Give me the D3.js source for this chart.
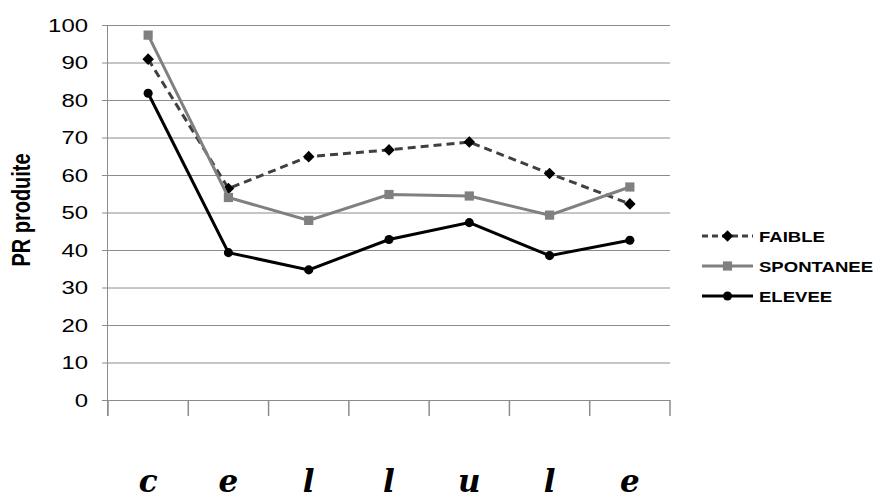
<!DOCTYPE html>
<html lang="fr">
<head>
  <meta charset="utf-8">
  <title>PR produite</title>
  <style>
    html,body { margin:0; padding:0; background:#fff; }
    svg { display:block; }
  </style>
  <script src="https://d3js.org/d3.v7.min.js"></script>
</head>
<body>
<svg width="881" height="498"></svg>
<script>
// values
const letters = ["c", "e", "l", "l", "u", "l", "e"];
const yTicks = [0, 10, 20, 30, 40, 50, 60, 70, 80, 90, 100];
const faible = [90.9, 56.4, 64.9, 66.7, 68.8, 60.4, 52.3];
const spontanee = [97.3, 54.0, 47.9, 54.8, 54.4, 49.3, 56.8];
const elevee = [81.8, 39.3, 34.7, 42.8, 47.3, 38.5, 42.6];

const series = [
  {name: "FAIBLE", values: faible, stroke: "#404040", dash: "8,5", marker: "diamond", fill: "#000"},
  {name: "SPONTANEE", values: spontanee, stroke: "#808080", dash: null, marker: "square", fill: "#808080"},
  {name: "ELEVEE", values: elevee, stroke: "#000", dash: null, marker: "circle", fill: "#000"}
];

const svg = d3.select("svg");
const plotL = 108, plotR = 670, plotT = 25, plotB = 400;
const stretch = 1.33; // the source picture has wide text
const font = "Liberation Sans, Arial, sans-serif";

const x = d3.scaleBand().domain(d3.range(letters.length)).range([plotL, plotR]);
const y = d3.scaleLinear().domain([0, 100]).range([plotB, plotT]);

// gridlines
svg.append("g").selectAll("line")
  .data(yTicks.filter(d => d > 0))
  .enter().append("line")
    .attr("x1", plotL).attr("x2", plotR)
    .attr("y1", d => y(d) + 0.5).attr("y2", d => y(d) + 0.5)
    .attr("stroke", "#8c8c8c").attr("stroke-width", 1);

// y axis
const yAxis = svg.append("g")
  .attr("transform", `translate(${plotL},0)`)
  .call(d3.axisLeft(y).tickValues(yTicks).tickSize(6).tickPadding(0));
yAxis.select(".domain").attr("stroke", "#8c8c8c").attr("d", `M-0.5,${plotT}V${plotB + 16}`);
yAxis.selectAll(".tick line").attr("stroke", "#8c8c8c");
yAxis.selectAll("text")
  .attr("x", 0)
  .attr("transform", `translate(-20,0.5) scale(${stretch},1)`)
  .attr("font-family", font)
  .attr("font-size", 18).attr("fill", "#000");

// x axis: ticks on the band edges
const edges = d3.range(letters.length + 1).map(i => plotL + i * x.step());
svg.append("line")
  .attr("x1", plotL - 6).attr("x2", plotR)
  .attr("y1", plotB + 0.5).attr("y2", plotB + 0.5)
  .attr("stroke", "#8c8c8c");
svg.append("g").selectAll("line")
  .data(edges)
  .enter().append("line")
    .attr("x1", d => d).attr("x2", d => d)
    .attr("y1", plotB).attr("y2", plotB + 16)
    .attr("stroke", "#8c8c8c").attr("stroke-width", 1.5);

svg.append("g").selectAll("text")
  .data(letters)
  .enter().append("text")
    .attr("x", (d, i) => x(i) + x.bandwidth() / 2)
    .attr("y", 492)
    .attr("text-anchor", "middle")
    .attr("font-family", "DejaVu Serif, serif")
    .attr("font-style", "italic")
    .attr("font-weight", "bold")
    .attr("font-size", 31)
    .text(d => d);

// y title
svg.append("text")
  .attr("transform", `translate(30,210) scale(${stretch},1) rotate(-90)`)
  .attr("text-anchor", "middle")
  .attr("font-family", font)
  .attr("font-weight", "bold")
  .attr("font-size", 20)
  .text("PR produite");

const cx = i => x(i) + x.bandwidth() / 2;
const line = d3.line().x((d, i) => cx(i)).y(d => y(d));

const symbols = {
  diamond: d3.symbol().type(d3.symbolDiamond2).size(85),
  square: d3.symbol().type(d3.symbolSquare).size(85),
  circle: d3.symbol().type(d3.symbolCircle).size(65)
};

series.forEach(s => {
  svg.append("path")
    .datum(s.values)
    .attr("d", line)
    .attr("fill", "none")
    .attr("stroke", s.stroke)
    .attr("stroke-width", 3)
    .attr("stroke-dasharray", s.dash);
  svg.append("g").selectAll("path")
    .data(s.values)
    .enter().append("path")
      .attr("d", symbols[s.marker])
      .attr("fill", s.fill)
      .attr("transform", (d, i) => `translate(${cx(i)},${y(d)})`);
});

// legend
const legend = svg.append("g").selectAll("g")
  .data(series)
  .enter().append("g")
    .attr("transform", (d, i) => `translate(702,${236 + i * 30})`);
legend.append("line")
  .attr("x1", 0).attr("x2", 51)
  .attr("stroke", d => d.stroke)
  .attr("stroke-width", 3)
  .attr("stroke-dasharray", d => d.dash ? "6,4" : null);
legend.append("path")
  .attr("d", d => symbols[d.marker]())
  .attr("fill", d => d.fill)
  .attr("transform", "translate(25.5,0)");
legend.append("text")
  .attr("transform", "translate(57,5.5) scale(1.28,1)")
  .attr("font-family", font)
  .attr("font-weight", "bold")
  .attr("font-size", 14.5)
  .text(d => d.name);
</script>
</body>
</html>
